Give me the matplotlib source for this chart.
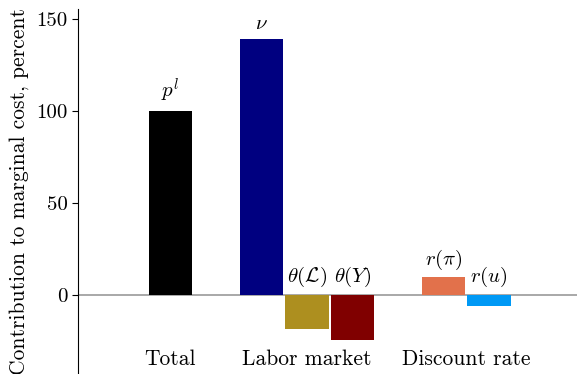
import matplotlib
matplotlib.use("Agg")
import matplotlib.pyplot as plt

plt.rcParams['font.family'] = ['cmr10', 'DejaVu Serif']
plt.rcParams['mathtext.fontset'] = 'cm'
plt.rcParams['axes.unicode_minus'] = False
plt.rcParams['axes.formatter.use_mathtext'] = False

labels = [r'$p^l$', r'$\nu$', r'$\theta(\mathcal{L})$', r'$\theta(Y)$', r'$r(\pi)$', r'$r(u)$']
values = [100, 139, -18.5, -24.5, 9.5, -6]
positions = [0, 2, 3, 4, 6, 7]
colors = ['#000000', '#000080', '#AD8F1F', '#800000', '#E2714B', '#0099F5']
group_names = ['Total', 'Labor market', 'Discount rate']
group_pos = [0, 3, 6.5]
yticks = [0, 50, 100, 150]

fig, ax = plt.subplots(figsize=(5.77, 3.74), dpi=100)
fig.subplots_adjust(left=0.135, right=1.0, top=0.975, bottom=0.0)

ax.axhline(0, color='#999999', lw=1.2, zorder=1)
ax.bar(positions, values, width=0.95, color=colors, zorder=2)
for p, v, l in zip(positions, values, labels):
    ax.text(p, max(v, 0) + 3, l, ha='center', va='bottom', fontsize=15)

ax.set_xlim(-2.03, 8.93)
ax.set_ylim(-43, 155)
ax.set_yticks(yticks)
ax.set_yticklabels([str(t) for t in yticks], fontsize=15)
ax.set_xticks([])
for gp, gn in zip(group_pos, group_names):
    ax.text(gp, -35, gn, ha='center', va='center', fontsize=15.5)
ax.set_ylabel('Contribution to marginal cost, percent', fontsize=15.5, labelpad=5)
for s in ['top', 'right', 'bottom']:
    ax.spines[s].set_visible(False)
ax.tick_params(axis='y', direction='out', length=4)

fig.savefig('out.png', dpi=100)
